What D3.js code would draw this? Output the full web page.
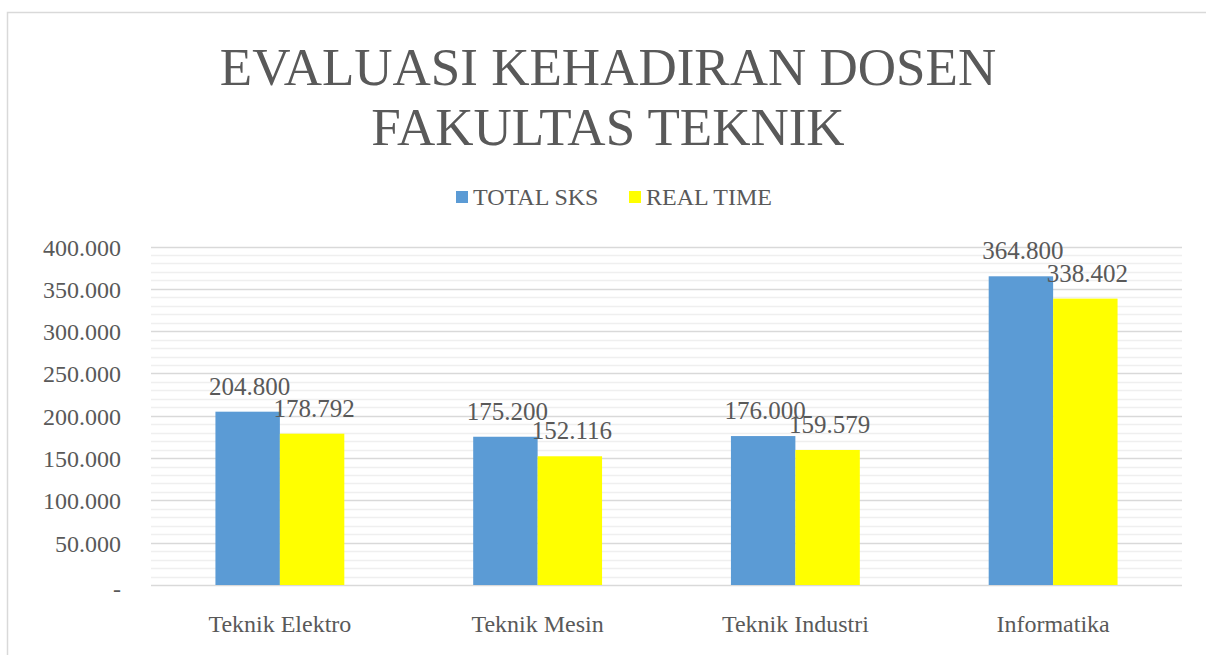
<!DOCTYPE html>
<html>
<head>
<meta charset="utf-8">
<script src="https://cdn.jsdelivr.net/npm/d3@7"></script>
<style>
  body { margin: 0; background: #fff; }
  svg text { fill: #595959; }
</style>
</head>
<body>
<script>
const categories = ['Teknik Elektro', 'Teknik Mesin', 'Teknik Industri', 'Informatika'];
const seriesNames = ['TOTAL SKS', 'REAL TIME'];
const totalSks = [204800, 175200, 176000, 364800];
const realTime = [178792, 152116, 159579, 338402];
const colors = ['#5B9BD5', '#FFFF00'];
const majorTicks = [0, 50000, 100000, 150000, 200000, 250000, 300000, 350000, 400000];

const width = 1206, height = 655;
const plot = { left: 151, right: 1182, top: 246.5, bottom: 585 };

const svg = d3.select('body').append('svg')
  .attr('width', width)
  .attr('height', height)
  .style('font-family', '"Times New Roman", "Liberation Serif", Times, serif');

// chart border (runs off the right and bottom)
svg.append('rect')
  .attr('x', 7.5).attr('y', 12.5)
  .attr('width', 1300).attr('height', 700)
  .attr('fill', 'none')
  .attr('stroke', '#d9d9d9')
  .attr('stroke-width', 1.5);

// title
const title = svg.append('text')
  .attr('text-anchor', 'middle')
  .attr('font-size', 53);
title.append('tspan').attr('x', 608).attr('y', 85).text('EVALUASI KEHADIRAN DOSEN');
title.append('tspan').attr('x', 608).attr('y', 145).text('FAKULTAS TEKNIK');

// legend
const legendX = [456, 629];
seriesNames.forEach((name, i) => {
  svg.append('rect')
    .attr('x', legendX[i]).attr('y', 191)
    .attr('width', 12).attr('height', 12)
    .attr('fill', colors[i]);
  svg.append('text')
    .attr('x', legendX[i] + 17).attr('y', 205)
    .attr('font-size', 24)
    .text(name);
});

const y = d3.scaleLinear().domain([0, 400000]).range([plot.bottom, plot.top]);
const x0 = d3.scaleBand().domain(categories).range([plot.left, plot.right]).paddingInner(0.5).paddingOuter(0.25);
const x1 = d3.scaleBand().domain(seriesNames).range([0, x0.bandwidth()]);

// minor gridlines
const minorTicks = d3.range(10000, 400000, 10000).filter(v => v % 50000 !== 0);
svg.append('g').selectAll('line')
  .data(minorTicks)
  .enter().append('line')
  .attr('x1', plot.left).attr('x2', plot.right)
  .attr('y1', d => Math.round(y(d)) + 0.5)
  .attr('y2', d => Math.round(y(d)) + 0.5)
  .attr('stroke', '#efefef')
  .attr('stroke-width', 1.5);

// major gridlines
svg.append('g').selectAll('line')
  .data(majorTicks)
  .enter().append('line')
  .attr('x1', plot.left).attr('x2', plot.right)
  .attr('y1', d => Math.round(y(d)) + 0.5)
  .attr('y2', d => Math.round(y(d)) + 0.5)
  .attr('stroke', '#d9d9d9')
  .attr('stroke-width', 1.5);

// y axis labels
svg.append('g').selectAll('text')
  .data(majorTicks)
  .enter().append('text')
  .attr('x', 121)
  .attr('y', d => y(d) + (d === 0 ? 12 : 9))
  .attr('text-anchor', 'end')
  .attr('font-size', 24)
  .text(d => d === 0 ? '-' : d3.format(',')(d / 1000) + '.000');

// bars
const rows = categories.map((c, i) => ({ cat: c, vals: [totalSks[i], realTime[i]] }));
const groups = svg.append('g').selectAll('g')
  .data(rows)
  .enter().append('g')
  .attr('transform', d => `translate(${x0(d.cat)},0)`);

groups.selectAll('rect')
  .data(d => d.vals.map((v, i) => ({ key: seriesNames[i], v: v, i: i })))
  .enter().append('rect')
  .attr('x', d => x1(d.key))
  .attr('y', d => y(d.v))
  .attr('width', x1.bandwidth())
  .attr('height', d => plot.bottom - y(d.v))
  .attr('fill', d => colors[d.i]);

// data labels
groups.selectAll('text')
  .data(d => d.vals.map((v, i) => ({ key: seriesNames[i], v: v, i: i })))
  .enter().append('text')
  .attr('x', d => x1(d.key) + x1.bandwidth() / 2 + 2)
  .attr('y', d => y(d.v) - 17)
  .attr('text-anchor', 'middle')
  .attr('font-size', 25)
  .text(d => d3.format(',')(d.v).replace(/,/g, '.'));

// category labels
svg.append('g').selectAll('text')
  .data(categories)
  .enter().append('text')
  .attr('x', d => x0(d) + x0.bandwidth() / 2)
  .attr('y', 632)
  .attr('text-anchor', 'middle')
  .attr('font-size', 24)
  .text(d => d);
</script>
</body>
</html>
